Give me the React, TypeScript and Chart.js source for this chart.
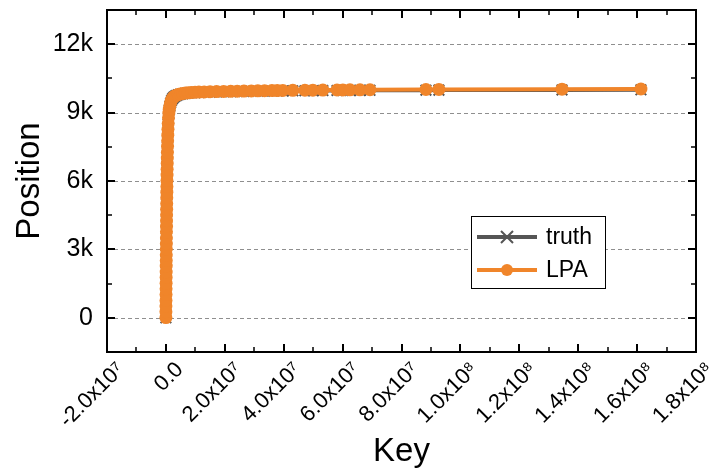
import React, { useEffect, useRef } from "react";
import { Chart, registerables } from "chart.js";

Chart.register(...registerables);

// ---- data ----
const keys = [
  0, 1e4, 2e4, 3.2e4, 4.4e4, 5.6e4, 6.8e4, 8e4, 9.2e4, 1.05e5, 1.18e5, 1.31e5, 1.45e5, 1.6e5, 1.75e5, 1.9e5,
  2.06e5, 2.22e5, 2.39e5, 2.57e5, 2.76e5, 2.96e5, 3.17e5, 3.39e5, 3.62e5, 3.87e5, 4.14e5, 4.43e5, 4.75e5,
  5.1e5, 5.5e5, 5.95e5, 6.45e5, 7.05e5, 7.8e5, 8.8e5, 1.0e6, 1.15e6, 1.35e6, 1.6e6, 1.9e6, 2.25e6, 2.65e6,
  3.1e6, 3.6e6, 4.2e6, 4.9e6, 5.7e6, 6.6e6, 7.6e6, 8.7e6, 9.9e6, 1.12e7, 1.3e7, 1.5e7, 1.72e7, 1.96e7, 2.2e7,
  2.42e7, 2.65e7, 2.9e7, 3.12e7, 3.35e7, 3.6e7, 3.78e7, 3.97e7, 4.31e7, 4.72e7, 4.99e7, 5.33e7, 5.81e7,
  6.01e7, 6.25e7, 6.59e7, 6.93e7, 8.83e7, 9.27e7, 1.345e8, 1.613e8,
];

const truthPositions = [
  0, 250, 500, 750, 1000, 1250, 1500, 1750, 2000, 2250, 2500, 2750, 3000, 3250, 3500, 3750,
  4000, 4250, 4500, 4750, 5000, 5250, 5500, 5750, 6000, 6250, 6500, 6750, 7000,
  7250, 7500, 7750, 8000, 8250, 8500, 8750, 8950, 9120, 9280, 9420, 9530, 9610, 9670,
  9715, 9750, 9780, 9805, 9825, 9842, 9856, 9867, 9876, 9883, 9890, 9897, 9904, 9911, 9917,
  9922, 9927, 9932, 9937, 9941, 9945, 9948, 9951, 9955, 9959, 9962, 9965, 9969,
  9971, 9973, 9975, 9977, 9984, 9986, 9994, 9999,
];

const lpaPositions = [
  10, 270, 520, 760, 1020, 1270, 1510, 1770, 2010, 2270, 2510, 2760, 3020, 3260, 3510, 3770,
  4010, 4260, 4520, 4760, 5010, 5270, 5510, 5760, 6020, 6260, 6510, 6770, 7010,
  7260, 7520, 7760, 8010, 8270, 8520, 8770, 8980, 9150, 9300, 9440, 9550, 9630, 9690,
  9730, 9765, 9795, 9820, 9840, 9858, 9872, 9884, 9893, 9900, 9908, 9915, 9922, 9929, 9935,
  9940, 9946, 9951, 9956, 9960, 9965, 9968, 9972, 9976, 9981, 9984, 9988, 9992,
  9995, 9997, 10000, 10002, 10012, 10015, 10027, 10035,
];

const seriesLabels = ["truth", "LPA"];

const xTickValues = [-2e7, 0, 2e7, 4e7, 6e7, 8e7, 1e8, 1.2e8, 1.4e8, 1.6e8, 1.8e8];
const xTickLabels = [
  "-2.0x10⁷", "0.0", "2.0x10⁷", "4.0x10⁷", "6.0x10⁷", "8.0x10⁷",
  "1.0x10⁸", "1.2x10⁸", "1.4x10⁸", "1.6x10⁸", "1.8x10⁸",
];
const yTickValues = [0, 3000, 6000, 9000, 12000];
const yTickLabels = ["0", "3k", "6k", "9k", "12k"];

const X_MIN = -2e7;
const X_MAX = 1.8e8;
const Y_MIN = -1500;
const Y_MAX = 13500;

const GRAY = "#555555";
const ORANGE = "rgb(240,133,42)";
const FONT = "'Liberation Sans', Arial, Helvetica, sans-serif";

function labelFor(values: number[], labels: string[], v: number): string {
  const i = values.findIndex((t) => Math.abs(t - v) < 1e-6 * Math.max(1, Math.abs(t)));
  return i >= 0 ? labels[i] : "";
}

const framePlugin = {
  id: "originFrame",
  beforeDatasetsDraw(chart: any) {
    const { ctx, chartArea: a, scales } = chart;
    const y = scales.y;
    ctx.save();
    ctx.strokeStyle = "#8f8f8f";
    ctx.lineWidth = 1;
    ctx.setLineDash([4, 3]);
    for (const v of yTickValues) {
      const py = Math.round(y.getPixelForValue(v)) + 0.5;
      ctx.beginPath();
      ctx.moveTo(a.left, py);
      ctx.lineTo(a.right, py);
      ctx.stroke();
    }
    ctx.restore();
  },
  afterDatasetsDraw(chart: any) {
    const { ctx, chartArea: a, scales } = chart;
    const x = scales.x;
    const y = scales.y;
    ctx.save();
    ctx.strokeStyle = "#000";
    ctx.setLineDash([]);
    const xMinor: number[] = [];
    for (let i = 0; i < xTickValues.length - 1; i++) xMinor.push((xTickValues[i] + xTickValues[i + 1]) / 2);
    const yMinor: number[] = [];
    const ystep = yTickValues[1] - yTickValues[0];
    for (const v of yTickValues) yMinor.push(v + ystep / 2);
    ctx.lineWidth = 2;
    for (const v of xTickValues) {
      const px = Math.round(x.getPixelForValue(v));
      ctx.beginPath();
      ctx.moveTo(px, a.bottom);
      ctx.lineTo(px, a.bottom - 8);
      ctx.moveTo(px, a.top);
      ctx.lineTo(px, a.top + 8);
      ctx.stroke();
    }
    for (const v of yTickValues) {
      const py = Math.round(y.getPixelForValue(v));
      ctx.beginPath();
      ctx.moveTo(a.left, py);
      ctx.lineTo(a.left + 8, py);
      ctx.moveTo(a.right, py);
      ctx.lineTo(a.right - 8, py);
      ctx.stroke();
    }
    ctx.lineWidth = 1.5;
    for (const v of xMinor) {
      const px = Math.round(x.getPixelForValue(v));
      ctx.beginPath();
      ctx.moveTo(px, a.bottom);
      ctx.lineTo(px, a.bottom - 5);
      ctx.moveTo(px, a.top);
      ctx.lineTo(px, a.top + 5);
      ctx.stroke();
    }
    for (const v of yMinor) {
      if (v >= Y_MAX) continue;
      const py = Math.round(y.getPixelForValue(v));
      ctx.beginPath();
      ctx.moveTo(a.left, py);
      ctx.lineTo(a.left + 5, py);
      ctx.moveTo(a.right, py);
      ctx.lineTo(a.right - 5, py);
      ctx.stroke();
    }
    ctx.lineWidth = 2;
    ctx.strokeRect(a.left, a.top, a.right - a.left, a.bottom - a.top);

    // legend box
    const bx = 471, by = 216, bw = 134, bh = 72;
    ctx.fillStyle = "#fff";
    ctx.fillRect(bx, by, bw, bh);
    ctx.lineWidth = 1;
    ctx.strokeStyle = "#000";
    ctx.strokeRect(bx + 0.5, by + 0.5, bw, bh);
    const rows = [by + 21, by + 54];
    const lx0 = bx + 6, lx1 = bx + 66, mx = bx + 36;
    ctx.strokeStyle = GRAY;
    ctx.lineWidth = 4;
    ctx.beginPath();
    ctx.moveTo(lx0, rows[0]);
    ctx.lineTo(lx1, rows[0]);
    ctx.stroke();
    ctx.lineWidth = 2;
    const s = 6;
    ctx.beginPath();
    ctx.moveTo(mx - s, rows[0] - s);
    ctx.lineTo(mx + s, rows[0] + s);
    ctx.moveTo(mx - s, rows[0] + s);
    ctx.lineTo(mx + s, rows[0] - s);
    ctx.stroke();
    ctx.strokeStyle = ORANGE;
    ctx.lineWidth = 4;
    ctx.beginPath();
    ctx.moveTo(lx0, rows[1]);
    ctx.lineTo(lx1, rows[1]);
    ctx.stroke();
    ctx.fillStyle = ORANGE;
    ctx.beginPath();
    ctx.arc(mx, rows[1], 6, 0, Math.PI * 2);
    ctx.fill();
    ctx.fillStyle = "#000";
    ctx.font = `23px ${FONT}`;
    ctx.textBaseline = "middle";
    ctx.textAlign = "left";
    ctx.fillText(seriesLabels[0], bx + 75, rows[0] + 1);
    ctx.fillText(seriesLabels[1], bx + 75, rows[1] + 1);
    ctx.restore();
  },
};

export default function App() {
  const ref = useRef<HTMLCanvasElement | null>(null);
  useEffect(() => {
    document.body.style.margin = "0";
    const canvas = ref.current;
    if (!canvas) return;
    const truthData = keys.map((k, i) => ({ x: k, y: truthPositions[i] }));
    const lpaData = keys.map((k, i) => ({ x: k, y: lpaPositions[i] }));
    const chart = new Chart(canvas, {
      type: "scatter",
      data: {
        datasets: [
          {
            label: seriesLabels[0],
            data: truthData,
            showLine: true,
            borderColor: GRAY,
            backgroundColor: GRAY,
            borderWidth: 4,
            pointStyle: "crossRot",
            pointRadius: 7.5,
            pointBorderWidth: 2,
            pointBorderColor: GRAY,
            order: 1,
          },
          {
            label: seriesLabels[1],
            data: lpaData,
            showLine: true,
            borderColor: ORANGE,
            backgroundColor: ORANGE,
            borderWidth: 4,
            pointStyle: "circle",
            pointRadius: 6.5,
            pointBorderWidth: 0,
            pointBackgroundColor: ORANGE,
            order: 0,
          },
        ],
      },
      options: {
        responsive: false,
        animation: false,
        layout: { padding: { left: 0, right: 14, top: 10, bottom: 0 } },
        plugins: { legend: { display: false }, tooltip: { enabled: false } },
        scales: {
          x: {
            type: "linear",
            min: X_MIN,
            max: X_MAX,
            afterBuildTicks: (s: any) => {
              s.ticks = xTickValues.map((v) => ({ value: v }));
            },
            afterFit: (s: any) => {
              s.height = 120;
              s.paddingLeft = 0;
              s.paddingRight = 0;
            },
            grid: { display: false, drawTicks: false },
            border: { display: false },
            ticks: {
              autoSkip: false,
              minRotation: 45,
              maxRotation: 45,
              padding: 5,
              labelOffset: 14,
              color: "#000",
              font: { family: FONT, size: 22 },
              callback: (v: any) => labelFor(xTickValues, xTickLabels, Number(v)),
            },
            title: {
              display: true,
              text: "Key",
              color: "#000",
              font: { family: FONT, size: 33 },
              padding: { top: 0, bottom: 0 },
            },
          },
          y: {
            type: "linear",
            min: Y_MIN,
            max: Y_MAX,
            afterBuildTicks: (s: any) => {
              s.ticks = yTickValues.map((v) => ({ value: v }));
            },
            afterFit: (s: any) => {
              s.width = 107;
              s.paddingTop = 0;
              s.paddingBottom = 0;
            },
            grid: { display: false, drawTicks: false },
            border: { display: false },
            ticks: {
              padding: 14,
              color: "#000",
              font: { family: FONT, size: 25 },
              callback: (v: any) => labelFor(yTickValues, yTickLabels, Number(v)),
            },
            title: {
              display: true,
              text: "Position",
              color: "#000",
              font: { family: FONT, size: 33 },
              padding: { top: 10, bottom: 0 },
            },
          },
        },
      },
      plugins: [framePlugin],
    });
    return () => chart.destroy();
  }, []);
  return (
    <div style={{ position: "absolute", left: 0, top: 0, width: 710, height: 472 }}>
      <canvas ref={ref} width={710} height={472} style={{ width: 710, height: 472 }} />
    </div>
  );
}
